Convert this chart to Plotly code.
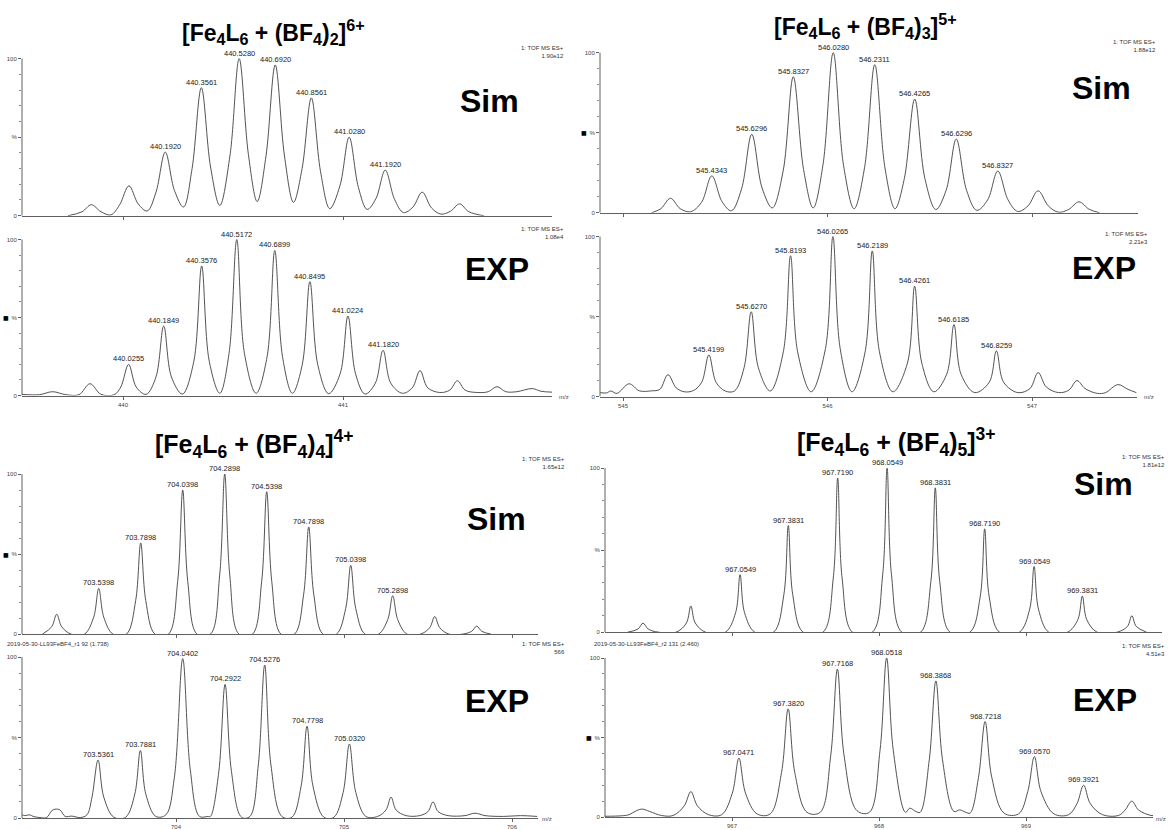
import plotly.graph_objects as go

W, H = 1168, 830
FONT = "Arial, Liberation Sans, Helvetica, sans-serif"

# ---------------- data ----------------
# Panel A  [Fe4L6 + (BF4)2]6+
simA_mz = [439.75, 439.814, 439.856, 439.90, 439.945, 439.985, 440.027, 440.069, 440.11, 440.15,
           440.192, 440.234, 440.275, 440.314, 440.3561, 440.398, 440.44, 440.486, 440.528, 440.57,
           440.61, 440.65, 440.692, 440.734, 440.775, 440.814, 440.8561, 440.898, 440.94, 440.986,
           441.028, 441.07, 441.11, 441.15, 441.192, 441.234, 441.275, 441.318, 441.36, 441.402,
           441.445, 441.488, 441.53, 441.572, 441.64]
simA_int = [0, 2.5, 7, 2.5, 0.5, 7, 19, 7.5, 3, 15,
            40.5, 16, 5.5, 30, 81.5, 31, 6.5, 38, 100, 39,
            9, 38, 96, 38, 8.5, 30, 75, 28, 4.5, 19,
            50, 18, 4, 11, 29, 10.5, 2, 5.5, 15, 5,
            1, 2.8, 7.5, 2.5, 0]
simA_lab = ["440.1920", "440.3561", "440.5280", "440.6920", "440.8561", "441.0280", "441.1920"]
simA_lab_int = [40.5, 81.5, 100, 96, 75, 50, 29]

expA_mz = [439.541, 439.62, 439.68, 439.74, 439.80, 439.85, 439.90, 439.96, 439.99, 440.0255,
           440.06, 440.105, 440.15, 440.185, 440.22, 440.27, 440.322, 440.3576, 440.392, 440.44,
           440.482, 440.5172, 440.552, 440.605, 440.655, 440.6899, 440.725, 440.77, 440.815, 440.8495,
           440.885, 440.935, 440.987, 441.0224, 441.057, 441.10, 441.147, 441.182, 441.217, 441.27,
           441.315, 441.35, 441.385, 441.44, 441.485, 441.52, 441.555, 441.61, 441.66, 441.70,
           441.74, 441.79, 441.86, 441.90, 441.95]
expA_int = [0.8, 0.6, 2.5, 0.6, 0.6, 7.6, 0.8, 0.6, 5.5, 20,
            5.5, 0.8, 12, 44.6, 12, 1, 22, 83, 22, 1.5,
            27, 100, 27, 1.5, 25, 93, 25, 1.5, 20, 73,
            20, 1.2, 14, 51, 14, 1, 8, 29, 8, 1.5,
            5, 16, 5, 2, 3.5, 9.5, 3.5, 2, 2.5, 5.7,
            2.5, 2.5, 4.5, 2.8, 2.2]
expA_lab = ["440.0255", "440.1849", "440.3576", "440.5172", "440.6899", "440.8495", "441.0224", "441.1820"]
expA_lab_int = [20, 44.6, 83, 100, 93, 73, 51, 29]

# Panel B  [Fe4L6 + (BF4)3]5+
simB_mz = [545.14, 545.185, 545.232, 545.28, 545.33, 545.384, 545.4343, 545.484, 545.53, 545.58,
           545.6296, 545.68, 545.73, 545.783, 545.8327, 545.883, 545.93, 545.978, 546.028, 546.078,
           546.13, 546.181, 546.2311, 546.281, 546.33, 546.376, 546.4265, 546.476, 546.53, 546.58,
           546.6296, 546.68, 546.73, 546.783, 546.8327, 546.883, 546.93, 546.98, 547.03, 547.08,
           547.13, 547.18, 547.23, 547.28, 547.33]
simB_int = [0, 2.5, 9, 2.5, 0.6, 6.5, 23, 7, 1.2, 15,
            49, 15.5, 3, 26, 85, 27, 3, 30, 100, 30,
            2.5, 28, 92.5, 28, 2.5, 21.5, 71, 21.5, 2, 14,
            46, 14, 1.5, 8, 26, 8, 0.8, 4.2, 13.7, 4.2,
            0.3, 2.1, 6.8, 2.1, 0]
simB_lab = ["545.4343", "545.6296", "545.8327", "546.0280", "546.2311", "546.4265", "546.6296", "546.8327"]
simB_lab_int = [23, 49, 85, 100, 92.5, 71, 46, 26]

expB_mz = [544.888, 544.92, 544.94, 544.97, 545.03, 545.08, 545.14, 545.18, 545.22, 545.26,
           545.30, 545.345, 545.385, 545.42, 545.455, 545.50, 545.545, 545.592, 545.627, 545.662,
           545.72, 545.784, 545.8193, 545.854, 545.92, 545.99, 546.0265, 546.062, 546.12, 546.184,
           546.2189, 546.254, 546.32, 546.391, 546.4261, 546.461, 546.52, 546.583, 546.6185, 546.653,
           546.72, 546.791, 546.8259, 546.861, 546.93, 546.99, 547.03, 547.07, 547.13, 547.18,
           547.22, 547.26, 547.32, 547.36, 547.42, 547.47, 547.51]
expB_int = [2.5, 2.3, 3.5, 2, 8, 3.6, 3.6, 4.5, 13.7, 5.5,
            3, 3.8, 9, 26, 9, 3.5, 3.5, 18, 53, 18,
            3.5, 28, 88, 28, 3, 30, 100, 30, 3, 28,
            91, 28, 3, 21, 69, 21, 3, 14, 45, 14,
            2.5, 9, 28.5, 9, 2.5, 5, 15, 6, 2.5, 4,
            10, 5, 2, 2.5, 7.5, 4.5, 2.5]
expB_lab = ["545.4199", "545.6270", "545.8193", "546.0265", "546.2189", "546.4261", "546.6185", "546.8259"]
expB_lab_int = [26, 53, 88, 100, 91, 69, 45, 28.5]

# Panel C  [Fe4L6 + (BF4)4]4+
simC_mz = [703.205, 703.26, 703.29, 703.32, 703.375,
           703.455, 703.51, 703.54, 703.57, 703.625,
           703.705, 703.76, 703.79, 703.82, 703.875,
           703.955, 704.01, 704.04, 704.07, 704.125,
           704.205, 704.26, 704.29, 704.32, 704.375,
           704.455, 704.51, 704.54, 704.57, 704.625,
           704.705, 704.76, 704.79, 704.82, 704.875,
           704.955, 705.01, 705.04, 705.07, 705.125,
           705.205, 705.26, 705.29, 705.32, 705.375,
           705.455, 705.51, 705.54, 705.57, 705.625,
           705.705, 705.76, 705.79, 705.82, 705.875]
simC_int = [0, 4.6, 12.4, 4.6, 0,
            0, 10.6, 28.6, 10.6, 0,
            0, 21, 57, 21, 0,
            0, 33, 90, 33, 0,
            0, 37, 100, 37, 0,
            0, 33, 89, 33, 0,
            0, 25, 67, 25, 0,
            0, 16, 43, 16, 0,
            0, 9, 24, 9, 0,
            0, 4, 11, 4, 0,
            0, 1.8, 5, 1.8, 0]
simC_lab = ["703.5398", "703.7898", "704.0398", "704.2898", "704.5398", "704.7898", "705.0398", "705.2898"]
simC_lab_int = [28.6, 57, 90, 100, 89, 67, 43, 24]

expC_mz = [703.083, 703.10, 703.13, 703.15, 703.19, 703.23, 703.26, 703.28, 703.31, 703.34,
           703.38, 703.43, 703.47, 703.50, 703.536, 703.57, 703.63,
           703.70, 703.755, 703.788, 703.82, 703.88,
           703.94, 703.99, 704.04, 704.085, 704.14, 704.19,
           704.205, 704.255, 704.292, 704.33, 704.39,
           704.44, 704.49, 704.528, 704.565, 704.63,
           704.69, 704.745, 704.78, 704.815, 704.88,
           704.94, 704.995, 705.032, 705.07, 705.13,
           705.20, 705.25, 705.28, 705.31, 705.37,
           705.45, 705.50, 705.53, 705.56, 705.62,
           705.72, 705.78, 705.84, 705.95, 706.05, 706.15]
expC_int = [2, 1.5, 2, 1, 0.3, 0.3, 4.5, 5.5, 5, 1,
            1.2, 0.3, 2, 13, 36, 13, 0.5,
            0.5, 15, 42, 15, 1,
            2, 25, 99, 30, 1, 1,
            1, 29, 83, 29, 0.5,
            1, 33, 95, 33, 1,
            0.5, 20, 57, 20, 0.5,
            0.5, 16, 46, 16, 1,
            1, 5, 13, 5, 1.5,
            1.5, 4, 10, 4, 1.5,
            1.5, 3, 1.5, 1, 1.5, 1]
expC_lab = ["703.5361", "703.7881", "704.0402", "704.2922", "704.5276", "704.7798", "705.0320"]
expC_lab_int = [36, 42, 99, 83, 95, 57, 46]

# Panel D  [Fe4L6 + (BF4)5]3+
simD_mz = [966.29, 966.36, 966.395, 966.43, 966.50,
           966.62, 966.69, 966.72, 966.75, 966.82,
           966.955, 967.025, 967.055, 967.085, 967.155,
           967.283, 967.353, 967.383, 967.413, 967.483,
           967.619, 967.689, 967.719, 967.749, 967.819,
           967.955, 968.025, 968.055, 968.085, 968.155,
           968.283, 968.353, 968.383, 968.413, 968.483,
           968.619, 968.689, 968.719, 968.749, 968.819,
           968.955, 969.025, 969.055, 969.085, 969.155,
           969.283, 969.353, 969.383, 969.413, 969.483,
           969.62, 969.69, 969.72, 969.75, 969.82]
simD_int = [0, 1.9, 5.5, 1.9, 0,
            0, 5.6, 16, 5.6, 0,
            0, 12, 35, 12, 0,
            0, 23, 65, 23, 0,
            0, 33, 94, 33, 0,
            0, 35, 100, 35, 0,
            0, 31, 88, 31, 0,
            0, 22, 63, 22, 0,
            0, 14, 40, 14, 0,
            0, 7.7, 22, 7.7, 0,
            0, 3.5, 10, 3.5, 0]
simD_lab = ["967.0549", "967.3831", "967.7190", "968.0549", "968.3831", "968.7190", "969.0549", "969.3831"]
simD_lab_int = [35, 65, 94, 100, 88, 63, 40, 22]

expD_mz = [966.136, 966.25, 966.30, 966.35, 966.39, 966.44, 966.52,
           966.60, 966.675, 966.72, 966.765, 966.84,
           966.93, 967.002, 967.047, 967.092, 967.17,
           967.26, 967.337, 967.382, 967.427, 967.51,
           967.60, 967.672, 967.717, 967.762, 967.85,
           967.935, 968.007, 968.052, 968.097, 968.18, 968.21, 968.25,
           968.28, 968.342, 968.387, 968.432, 968.51, 968.55, 968.59,
           968.62, 968.677, 968.722, 968.767, 968.85,
           968.95, 969.012, 969.057, 969.102, 969.19,
           969.29, 969.347, 969.392, 969.437, 969.52,
           969.63, 969.675, 969.72, 969.765, 969.85, 969.90]
expD_int = [0.5, 0.8, 1.5, 4, 5, 3.5, 1,
            1, 7, 16, 7, 1.5,
            1.5, 15, 37, 15, 2,
            2, 28, 68, 28, 3,
            3, 39, 93, 39, 4,
            3, 42, 100, 42, 3, 5.6, 3.5,
            3, 36, 85.6, 36, 3.5, 4.5, 3,
            2.5, 25, 60, 25, 2.5,
            2, 16, 38, 16, 2,
            1.5, 8.5, 20, 8.5, 1.5,
            1, 4.5, 10, 4.5, 1, 1]
expD_lab = ["967.0471", "967.3820", "967.7168", "968.0518", "968.3868", "968.7218", "969.0570", "969.3921"]
expD_lab_int = [37, 68, 93, 100, 85.6, 60, 38, 20]

titles = [
    "[Fe<sub>4</sub>L<sub>6</sub> + (BF<sub>4</sub>)<sub>2</sub>]<sup>6+</sup>",
    "[Fe<sub>4</sub>L<sub>6</sub> + (BF<sub>4</sub>)<sub>3</sub>]<sup>5+</sup>",
    "[Fe<sub>4</sub>L<sub>6</sub> + (BF<sub>4</sub>)<sub>4</sub>]<sup>4+</sup>",
    "[Fe<sub>4</sub>L<sub>6</sub> + (BF<sub>4</sub>)<sub>5</sub>]<sup>3+</sup>",
]
# left edge x, middle y, font size
title_pos = [(180, 32, 23), (772, 26, 23), (153, 447, 25), (795, 445, 25)]

scan_ids = ["2019-05-30-LL93FeBF4_r1 92 (1.738)", "2019-05-30-LL93FeBF4_r2 131 (2.460)"]

# ---------------- panel layout ----------------
panels = [
    dict(mz=simA_mz, it=simA_int, lab=simA_lab, li=simA_lab_int, xpx=(22, 552), y0=217, y100=59,
         ref=(440, 123, 220), ticks=[440, 441], tl=False, tof="1.90e12", tofpos=(565, 44),
         tag="Sim", tagpos=(489, 102), sq=False, mz_lbl=None),
    dict(mz=expA_mz, it=expA_int, lab=expA_lab, li=expA_lab_int, xpx=(22, 552), y0=398, y100=241,
         ref=(440, 123, 220), ticks=[440, 441], tl=True, tof="1.08e4", tofpos=(565, 226),
         tag="EXP", tagpos=(497, 271), sq=True, mz_lbl=(558, 399)),
    dict(mz=simB_mz, it=simB_int, lab=simB_lab, li=simB_lab_int, xpx=(600, 1138), y0=214, y100=53,
         ref=(545, 623, 204.5), ticks=[545, 546, 547], tl=False, tof="1.88e12", tofpos=(1157, 38),
         tag="Sim", tagpos=(1101, 89), sq=True, mz_lbl=None),
    dict(mz=expB_mz, it=expB_int, lab=expB_lab, li=expB_lab_int, xpx=(600, 1137), y0=399, y100=238,
         ref=(545, 623, 204.5), ticks=[545, 546, 547], tl=True, tof="2.21e3", tofpos=(1149, 231),
         tag="EXP", tagpos=(1104, 270), sq=False, mz_lbl=(1143, 399)),
    dict(mz=simC_mz, it=simC_int, lab=simC_lab, li=simC_lab_int, xpx=(22, 538), y0=638, y100=477,
         ref=(704, 176, 168), ticks=[704, 705, 706], tl=False, tof="1.65e12", tofpos=(566, 458),
         tag="Sim", tagpos=(496, 522), sq=True, mz_lbl=None),
    dict(mz=expC_mz, it=expC_int, lab=expC_lab, li=expC_lab_int, xpx=(22, 538), y0=823, y100=661,
         ref=(704, 176, 168), ticks=[704, 705, 706], tl=True, tof="566", tofpos=(566, 644),
         tag="EXP", tagpos=(497, 705), sq=False, mz_lbl=(541, 824)),
    dict(mz=simD_mz, it=simD_int, lab=simD_lab, li=simD_lab_int, xpx=(605, 1162), y0=636, y100=471,
         ref=(967, 732, 147), ticks=[967, 968, 969], tl=False, tof="1.81e12", tofpos=(1166, 456),
         tag="Sim", tagpos=(1103, 487), sq=False, mz_lbl=None),
    dict(mz=expD_mz, it=expD_int, lab=expD_lab, li=expD_lab_int, xpx=(605, 1153), y0=822, y100=662,
         ref=(967, 732, 147), ticks=[967, 968, 969], tl=True, tof="4.51e3", tofpos=(1166, 646),
         tag="EXP", tagpos=(1105, 704), sq=True, mz_lbl=(1155, 824)),
]

AXC = "#606060"
LINEC = "#404040"
TXTC = "#222222"

fig = go.Figure()
layout = dict(width=W, height=H, margin=dict(l=0, r=0, t=0, b=0),
              paper_bgcolor="white", plot_bgcolor="white", showlegend=False,
              font=dict(family=FONT, color=TXTC, size=6))
annotations = []
shapes = []

TOP = 104.0
for i, p in enumerate(panels, start=1):
    xa = "x" if i == 1 else f"x{i}"
    ya = "y" if i == 1 else f"y{i}"
    m0, r0, sc = p["ref"]
    xl, xr = p["xpx"]
    rng = [m0 + (xl - r0) / sc, m0 + (xr - r0) / sc]
    span = p["y0"] - p["y100"]
    ytop_px = p["y0"] - span * TOP / 100.0
    layout["xaxis" if i == 1 else f"xaxis{i}"] = dict(
        domain=[xl / W, xr / W], range=rng, anchor=ya, showline=True, linecolor=AXC, linewidth=1,
        ticks="outside", ticklen=3, tickcolor=AXC, tickwidth=1, tickvals=p["ticks"],
        ticktext=[str(t) for t in p["ticks"]], showticklabels=p["tl"],
        tickfont=dict(size=6, color="#444", family=FONT), showgrid=False, zeroline=False, fixedrange=True)
    layout["yaxis" if i == 1 else f"yaxis{i}"] = dict(
        domain=[1 - p["y0"] / H, 1 - ytop_px / H], range=[0, TOP], anchor=xa, showline=False,
        ticks="outside", ticklen=3, tickcolor=AXC, tickwidth=1, tickvals=[0, 50, 100],
        ticktext=["0", "%", "100"], tickfont=dict(size=6, color="#444", family=FONT),
        minor=dict(ticks="outside", ticklen=2, tickcolor="#888", tickvals=[10, 20, 30, 40, 60, 70, 80, 90]),
        showgrid=False, zeroline=False, fixedrange=True)
    shapes.append(dict(type="line", xref=f"{xa} domain", yref=ya, x0=0, x1=0, y0=0, y1=100,
                       line=dict(color=AXC, width=1)))
    fig.add_trace(go.Scatter(x=p["mz"], y=p["it"], mode="lines", xaxis=xa, yaxis=ya,
                             line=dict(color=LINEC, width=0.9, shape="spline", smoothing=1.0),
                             hoverinfo="skip"))
    for lab, li in zip(p["lab"], p["li"]):
        annotations.append(dict(x=float(lab), y=li, xref=xa, yref=ya, text=lab, showarrow=False,
                                xanchor="center", yanchor="bottom", yshift=-1,
                                font=dict(size=7.5, color=TXTC, family=FONT)))
    tx, ty = p["tagpos"]
    annotations.append(dict(x=tx / W, y=1 - ty / H, xref="paper", yref="paper", text="<b>%s</b>" % p["tag"],
                            showarrow=False, xanchor="center", yanchor="middle",
                            font=dict(size=32, color="black", family=FONT)))
    fx, fy = p["tofpos"]
    annotations.append(dict(x=fx / W, y=1 - fy / H, xref="paper", yref="paper",
                            text="1: TOF MS ES+<br>" + p["tof"], showarrow=False, align="right",
                            xanchor="right", yanchor="top", borderpad=0,
                            font=dict(size=6, color="#333", family=FONT)))
    if p["sq"]:
        ymid = p["y0"] - span * 0.5
        annotations.append(dict(x=(xl - 12) / W, y=1 - ymid / H, xref="paper", yref="paper", text="■",
                                showarrow=False, xanchor="right", yanchor="middle", borderpad=0,
                                font=dict(size=6, color="black", family="DejaVu Sans")))
    if p["mz_lbl"]:
        mx, my = p["mz_lbl"]
        annotations.append(dict(x=mx / W, y=1 - my / H, xref="paper", yref="paper", text="m/z",
                                showarrow=False, xanchor="left", yanchor="middle", borderpad=0,
                                font=dict(size=6, color="#444", family=FONT)))

for t, (tx, ty, fs) in zip(titles, title_pos):
    annotations.append(dict(x=tx / W, y=1 - ty / H, xref="paper", yref="paper", text="<b>%s</b>" % t,
                            showarrow=False, xanchor="left", yanchor="middle",
                            font=dict(size=fs, color="black", family=FONT)))

for s, (sx, sy) in zip(scan_ids, [(5, 648), (592, 648)]):
    annotations.append(dict(x=sx / W, y=1 - sy / H, xref="paper", yref="paper", text=s,
                            showarrow=False, xanchor="left", yanchor="middle",
                            font=dict(size=6, color="#333", family=FONT)))

layout["annotations"] = annotations
layout["shapes"] = shapes
fig.update_layout(**layout)
fig.write_html("out.html")
